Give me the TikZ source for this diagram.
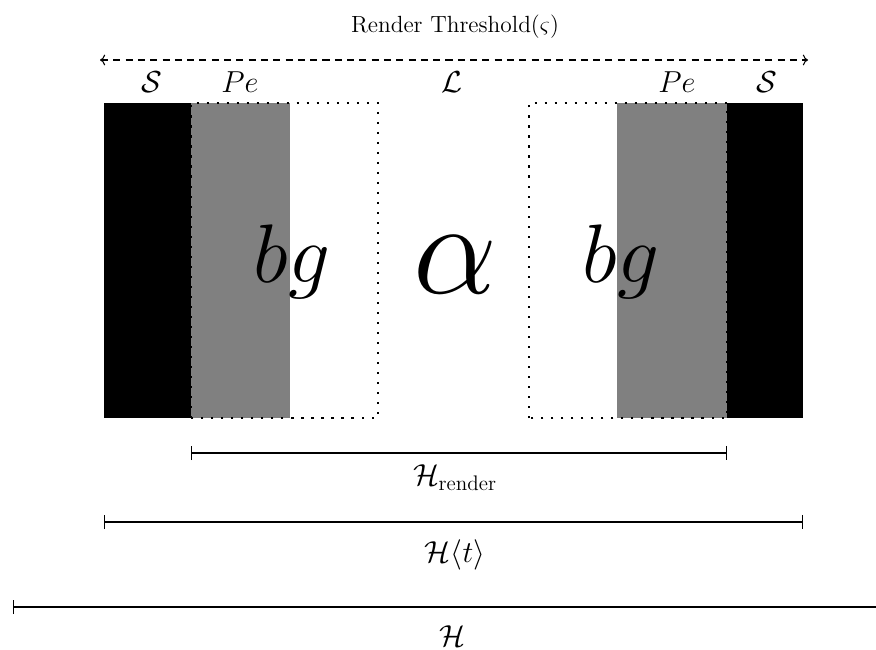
\documentclass[tikz,border=0pt]{standalone}
\usepackage{amsmath,amssymb}
\usepackage{tikz}
\usetikzlibrary{arrows.meta,positioning}

\tikzset{
    dots/.style={line width=1.2pt, dash pattern=on 1.2pt off 4.5pt},
    span/.style={thick, {Bar[width=8pt]}-{Bar[width=8pt]}},
    lbl/.style={font=\LARGE},
    big/.style={font=\Huge, scale=1.9},
    huge/.style={font=\Huge, scale=3.05}
}

\begin{document}
\begin{tikzpicture}
    \useasboundingbox (0,0) rectangle (17.52,12.98);

    % Left blocks: S | Pe
    \fill[black] (2.08,4.62) rectangle (3.82,10.92);
    \fill[gray] (3.82,4.62) rectangle (5.80,10.92);
    \draw[dots] (3.82,4.62) rectangle (7.56,10.92);

    % Right blocks: Pe | S
    \fill[gray] (12.34,4.62) rectangle (14.54,10.92);
    \fill[black] (14.54,4.62) rectangle (16.06,10.92);
    \draw[dots] (10.58,4.62) rectangle (14.54,10.92);

    % Big letters
    \node[big] (bgL) at (5.84,7.74) {$bg$};
    \node[huge] (alpha) at (9.10,7.68) {$\alpha$};
    \node[big] (bgR) at (12.42,7.74) {$bg$};

    % Top labels
    \node[lbl] (sL) at (3.04,11.34) {$\mathcal{S}$};
    \node[lbl] (peL) at (4.80,11.34) {$Pe$};
    \node[lbl] (lay) at (9.04,11.34) {$\mathcal{L}$};
    \node[lbl] (peR) at (13.54,11.34) {$Pe$};
    \node[lbl] (sR) at (15.34,11.34) {$\mathcal{S}$};

    % Render threshold
    \node[font=\large, scale=1.11] (thr) at (9.10,12.44) {Render Threshold($\varsigma$)};
    \coordinate (thrA) at (2.00,11.78);
    \coordinate (thrB) at (16.16,11.78);
    \draw[semithick, dash pattern=on 4pt off 3pt, <->] (thrA) -- (thrB);

    % Widths
    \coordinate (hrA) at (3.82,3.92);
    \coordinate (hrB) at (14.54,3.92);
    \draw[span] (hrA) -- (hrB);
    \node[lbl] (hr) at (9.10,3.42) {$\mathcal{H}_{\text{render}}$};

    \coordinate (htA) at (2.08,2.54);
    \coordinate (htB) at (16.06,2.54);
    \draw[span] (htA) -- (htB);
    \node[lbl] (ht) at (9.10,1.88) {$\mathcal{H}\langle t\rangle$};

    \coordinate (hA) at (0.26,0.84);
    \coordinate (hB) at (17.80,0.84);
    \draw[span] (hA) -- (hB);
    \node[lbl] (h) at (9.04,0.26) {$\mathcal{H}$};
\end{tikzpicture}
\end{document}
